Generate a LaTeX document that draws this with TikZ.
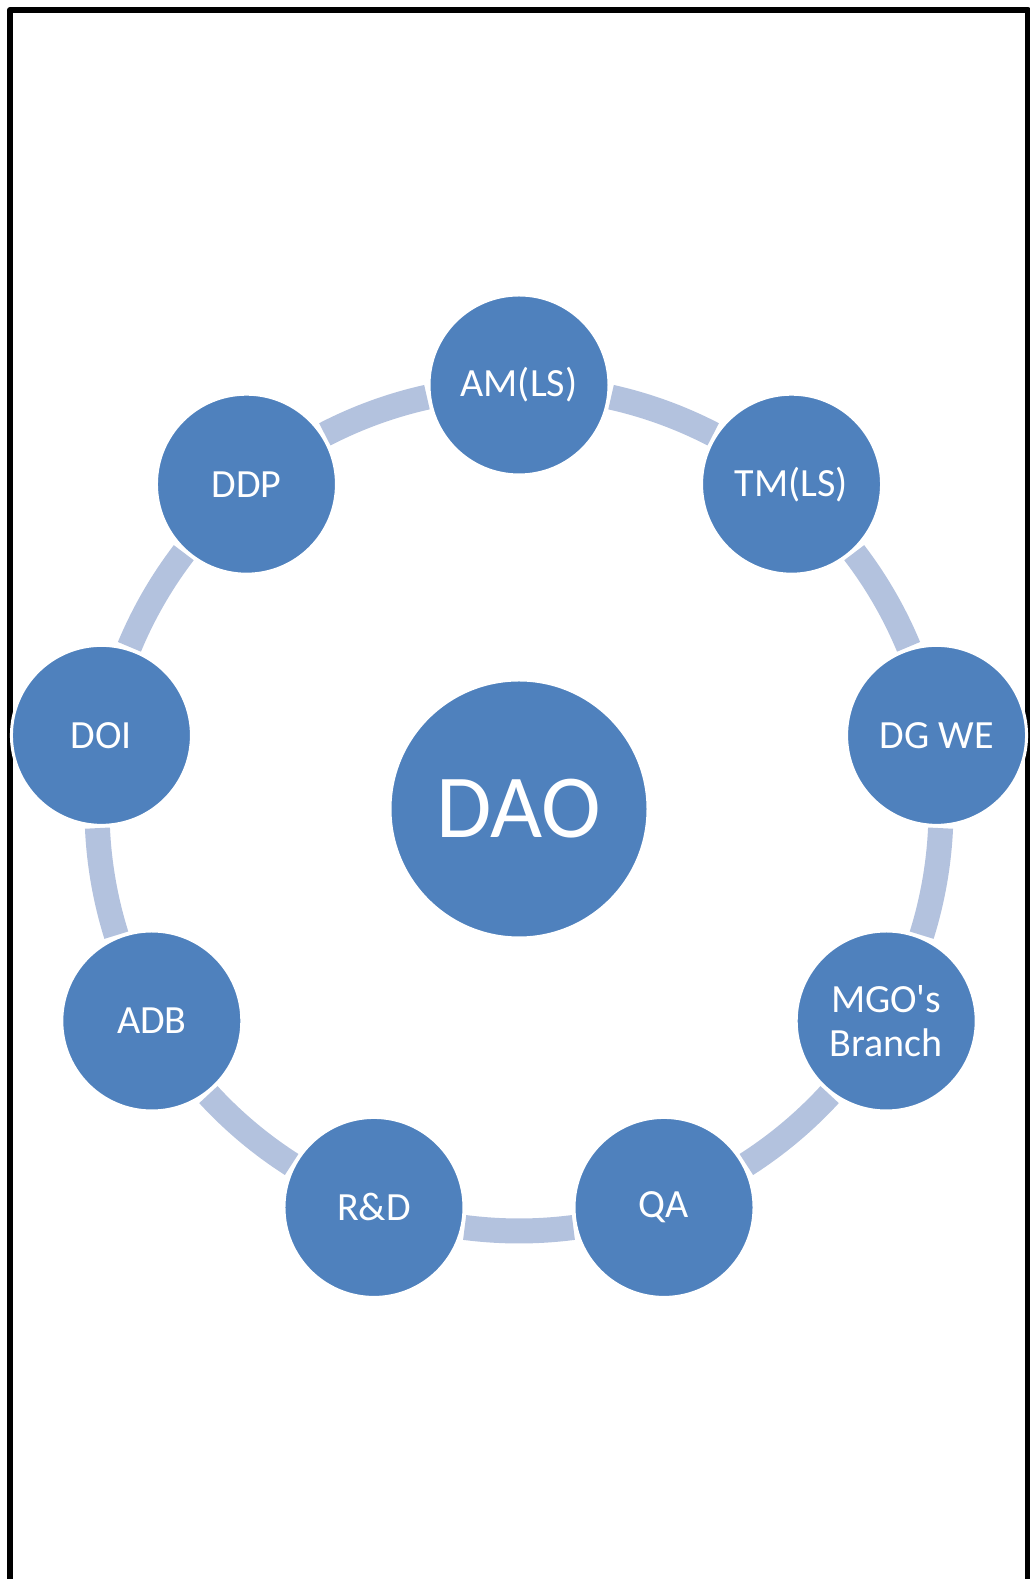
\documentclass[tikz,border=0pt]{standalone}
\usepackage{fontspec}
\setmainfont{Carlito}
\newfontfamily\cfont{Carlito}
\usetikzlibrary{calc}
\definecolor{nodeblue}{HTML}{4F81BD}
\definecolor{arcblue}{HTML}{B3C2DE}
\begin{document}
\begin{tikzpicture}[x=0.5pt,y=0.5pt,
  sat/.style={circle, fill=nodeblue, draw=white, line width=1.5pt, minimum size=90pt, inner sep=0pt,
    text=white, align=center, font=\cfont\fontsize{20}{22.2}\selectfont},
  hub/.style={circle, fill=nodeblue, draw=white, line width=1.5pt, minimum size=129pt, inner sep=0pt,
    text=white, font=\cfont\fontsize{45}{50}\selectfont},
  ringarc/.style={draw=arcblue, line width=12.5pt, line cap=butt},
  frame/.style={draw=black, line width=3pt, line join=round}]
\useasboundingbox (0,0) rectangle (1029,1579);
\draw[frame] (10,-20) -- (10,1569) -- (1028,1569) -- (1028,-20);
\coordinate (c) at (519,770);
% connecting arcs
\foreach \i in {0,...,8}{
  \pgfmathsetmacro{\sa}{90-40*\i-12.6}
  \pgfmathsetmacro{\ea}{90-40*\i-27.4}
  \coordinate (s\i) at ($(c)+(\sa:422)$);
  \draw[ringarc] (s\i) arc[start angle=\sa, end angle=\ea, radius=211pt];
}
\node[hub] (dao) at (c) {DAO};
\node[sat] (n0) at ($(c)+(90:424)$) {AM(LS)};
\node[sat] (n1) at ($(c)+(50:424)$) {TM(LS)};
\node[sat] (n2) at ($(c)+(10:424)$) {DG WE};
\node[sat] (n3) at ($(c)+(-30:424)$) {MGO's\\Branch};
\node[sat] (n4) at ($(c)+(-70:424)$) {QA};
\node[sat] (n5) at ($(c)+(-110:424)$) {R\&D};
\node[sat] (n6) at ($(c)+(-150:424)$) {ADB};
\node[sat] (n7) at ($(c)+(170:424)$) {DOI};
\node[sat] (n8) at ($(c)+(130:424)$) {DDP};
\end{tikzpicture}
\end{document}
